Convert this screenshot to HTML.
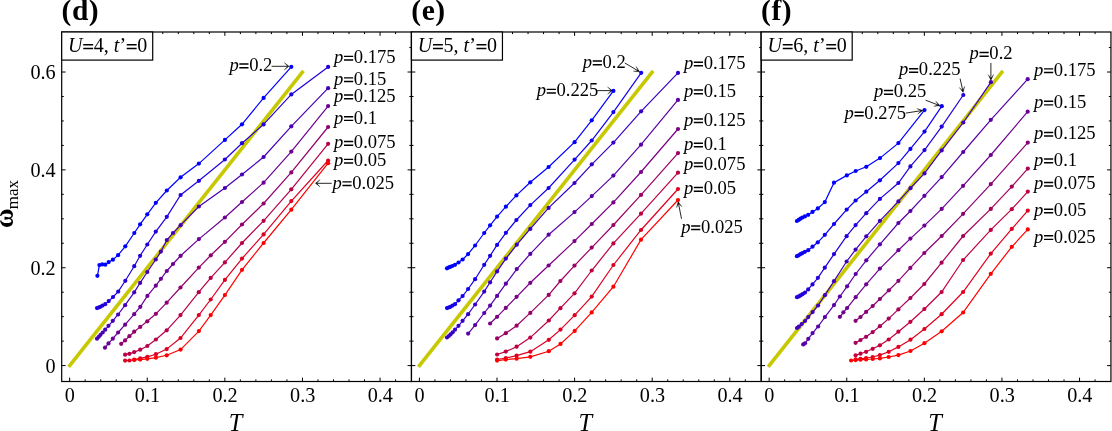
<!DOCTYPE html>
<html><head><meta charset="utf-8"><title>chart</title>
<style>html,body{margin:0;padding:0;background:#fff}svg{display:block;will-change:transform}</style>
</head><body>
<svg width="1112" height="431" viewBox="0 0 1112 431" font-family="'Liberation Serif', serif">
<rect width="1112" height="431" fill="#fff"/>
<line x1="68.66" y1="366.85" x2="303.44" y2="70.77" stroke="#c8c800" stroke-width="3.6"/>
<polyline fill="none" stroke="#0000ff" stroke-width="1.2" points="97.4,275.8 99.4,265.1 102.2,264.4 105.3,264.7 108.7,262.1 112.9,259.7 118.1,255.2 125.3,246.3 134.3,233.0 140.1,224.3 147.3,214.3 155.8,202.8 166.8,190.5 180.6,177.3 198.9,163.6 224.9,139.9 242.0,124.3 263.6,97.9 291.3,66.8"/>
<g fill="#0000ff"><circle cx="97.4" cy="275.8" r="2.1"/><circle cx="99.4" cy="265.1" r="2.1"/><circle cx="102.2" cy="264.4" r="2.1"/><circle cx="105.3" cy="264.7" r="2.1"/><circle cx="108.7" cy="262.1" r="2.1"/><circle cx="112.9" cy="259.7" r="2.1"/><circle cx="118.1" cy="255.2" r="2.1"/><circle cx="125.3" cy="246.3" r="2.1"/><circle cx="134.3" cy="233.0" r="2.1"/><circle cx="140.1" cy="224.3" r="2.1"/><circle cx="147.3" cy="214.3" r="2.1"/><circle cx="155.8" cy="202.8" r="2.1"/><circle cx="166.8" cy="190.5" r="2.1"/><circle cx="180.6" cy="177.3" r="2.1"/><circle cx="198.9" cy="163.6" r="2.1"/><circle cx="224.9" cy="139.9" r="2.1"/><circle cx="242.0" cy="124.3" r="2.1"/><circle cx="263.6" cy="97.9" r="2.1"/><circle cx="291.3" cy="66.8" r="2.1"/></g>
<polyline fill="none" stroke="#2100de" stroke-width="1.2" points="97.0,308.1 98.6,307.5 100.3,306.8 102.5,305.6 105.2,304.2 108.7,301.1 113.0,297.0 118.2,291.6 125.3,280.8 134.2,266.2 140.1,255.8 147.3,244.5 155.8,231.6 166.8,216.8 180.6,195.0 198.9,180.8 224.9,159.5 242.0,143.2 263.6,124.4 291.3,94.4 328.1,66.9"/>
<g fill="#2100de"><circle cx="97.0" cy="308.1" r="2.1"/><circle cx="98.6" cy="307.5" r="2.1"/><circle cx="100.3" cy="306.8" r="2.1"/><circle cx="102.5" cy="305.6" r="2.1"/><circle cx="105.2" cy="304.2" r="2.1"/><circle cx="108.7" cy="301.1" r="2.1"/><circle cx="113.0" cy="297.0" r="2.1"/><circle cx="118.2" cy="291.6" r="2.1"/><circle cx="125.3" cy="280.8" r="2.1"/><circle cx="134.2" cy="266.2" r="2.1"/><circle cx="140.1" cy="255.8" r="2.1"/><circle cx="147.3" cy="244.5" r="2.1"/><circle cx="155.8" cy="231.6" r="2.1"/><circle cx="166.8" cy="216.8" r="2.1"/><circle cx="180.6" cy="195.0" r="2.1"/><circle cx="198.9" cy="180.8" r="2.1"/><circle cx="224.9" cy="159.5" r="2.1"/><circle cx="242.0" cy="143.2" r="2.1"/><circle cx="263.6" cy="124.4" r="2.1"/><circle cx="291.3" cy="94.4" r="2.1"/><circle cx="328.1" cy="66.9" r="2.1"/></g>
<polyline fill="none" stroke="#4700b8" stroke-width="1.2" points="97.0,338.7 98.8,336.8 100.5,334.8 102.7,332.5 105.2,329.7 108.5,325.8 112.8,320.8 118.1,314.5 125.1,305.2 134.2,292.3 140.1,282.9 147.3,272.0 155.8,259.5 160.9,251.6 166.8,240.1 173.0,233.0 180.6,225.2 198.9,206.5 224.9,188.0 242.0,174.5 263.6,157.0 291.3,126.3 328.1,88.2"/>
<g fill="#4700b8"><circle cx="97.0" cy="338.7" r="2.1"/><circle cx="98.8" cy="336.8" r="2.1"/><circle cx="100.5" cy="334.8" r="2.1"/><circle cx="102.7" cy="332.5" r="2.1"/><circle cx="105.2" cy="329.7" r="2.1"/><circle cx="108.5" cy="325.8" r="2.1"/><circle cx="112.8" cy="320.8" r="2.1"/><circle cx="118.1" cy="314.5" r="2.1"/><circle cx="125.1" cy="305.2" r="2.1"/><circle cx="134.2" cy="292.3" r="2.1"/><circle cx="140.1" cy="282.9" r="2.1"/><circle cx="147.3" cy="272.0" r="2.1"/><circle cx="155.8" cy="259.5" r="2.1"/><circle cx="160.9" cy="251.6" r="2.1"/><circle cx="166.8" cy="240.1" r="2.1"/><circle cx="173.0" cy="233.0" r="2.1"/><circle cx="180.6" cy="225.2" r="2.1"/><circle cx="198.9" cy="206.5" r="2.1"/><circle cx="224.9" cy="188.0" r="2.1"/><circle cx="242.0" cy="174.5" r="2.1"/><circle cx="263.6" cy="157.0" r="2.1"/><circle cx="291.3" cy="126.3" r="2.1"/><circle cx="328.1" cy="88.2" r="2.1"/></g>
<polyline fill="none" stroke="#6c0093" stroke-width="1.2" points="105.0,347.7 108.5,343.4 112.8,338.7 118.1,332.5 125.1,324.7 134.2,314.2 140.3,306.8 147.4,295.9 155.8,285.7 160.9,278.8 166.8,271.0 173.0,264.0 180.6,255.8 198.9,239.1 224.9,217.5 242.0,202.0 263.6,182.7 291.3,151.6 328.1,106.1"/>
<g fill="#6c0093"><circle cx="105.0" cy="347.7" r="2.1"/><circle cx="108.5" cy="343.4" r="2.1"/><circle cx="112.8" cy="338.7" r="2.1"/><circle cx="118.1" cy="332.5" r="2.1"/><circle cx="125.1" cy="324.7" r="2.1"/><circle cx="134.2" cy="314.2" r="2.1"/><circle cx="140.3" cy="306.8" r="2.1"/><circle cx="147.4" cy="295.9" r="2.1"/><circle cx="155.8" cy="285.7" r="2.1"/><circle cx="160.9" cy="278.8" r="2.1"/><circle cx="166.8" cy="271.0" r="2.1"/><circle cx="173.0" cy="264.0" r="2.1"/><circle cx="180.6" cy="255.8" r="2.1"/><circle cx="198.9" cy="239.1" r="2.1"/><circle cx="224.9" cy="217.5" r="2.1"/><circle cx="242.0" cy="202.0" r="2.1"/><circle cx="263.6" cy="182.7" r="2.1"/><circle cx="291.3" cy="151.6" r="2.1"/><circle cx="328.1" cy="106.1" r="2.1"/></g>
<polyline fill="none" stroke="#91006e" stroke-width="1.2" points="121.2,343.8 125.1,340.4 129.4,336.2 134.2,331.7 140.2,326.9 147.3,321.3 155.9,313.8 166.7,302.7 180.5,287.5 198.8,267.6 210.8,255.3 224.9,241.8 242.0,224.5 263.6,203.5 291.3,172.4 328.1,127.0"/>
<g fill="#91006e"><circle cx="121.2" cy="343.8" r="2.1"/><circle cx="125.1" cy="340.4" r="2.1"/><circle cx="129.4" cy="336.2" r="2.1"/><circle cx="134.2" cy="331.7" r="2.1"/><circle cx="140.2" cy="326.9" r="2.1"/><circle cx="147.3" cy="321.3" r="2.1"/><circle cx="155.9" cy="313.8" r="2.1"/><circle cx="166.7" cy="302.7" r="2.1"/><circle cx="180.5" cy="287.5" r="2.1"/><circle cx="198.8" cy="267.6" r="2.1"/><circle cx="210.8" cy="255.3" r="2.1"/><circle cx="224.9" cy="241.8" r="2.1"/><circle cx="242.0" cy="224.5" r="2.1"/><circle cx="263.6" cy="203.5" r="2.1"/><circle cx="291.3" cy="172.4" r="2.1"/><circle cx="328.1" cy="127.0" r="2.1"/></g>
<polyline fill="none" stroke="#b60049" stroke-width="1.2" points="125.1,354.7 129.4,353.8 134.2,352.1 140.2,349.7 147.3,346.0 155.9,339.5 166.7,330.3 180.5,315.1 198.8,292.2 210.7,277.9 224.9,262.4 242.0,243.0 263.6,220.8 291.3,189.3 328.1,143.8"/>
<g fill="#b60049"><circle cx="125.1" cy="354.7" r="2.1"/><circle cx="129.4" cy="353.8" r="2.1"/><circle cx="134.2" cy="352.1" r="2.1"/><circle cx="140.2" cy="349.7" r="2.1"/><circle cx="147.3" cy="346.0" r="2.1"/><circle cx="155.9" cy="339.5" r="2.1"/><circle cx="166.7" cy="330.3" r="2.1"/><circle cx="180.5" cy="315.1" r="2.1"/><circle cx="198.8" cy="292.2" r="2.1"/><circle cx="210.7" cy="277.9" r="2.1"/><circle cx="224.9" cy="262.4" r="2.1"/><circle cx="242.0" cy="243.0" r="2.1"/><circle cx="263.6" cy="220.8" r="2.1"/><circle cx="291.3" cy="189.3" r="2.1"/><circle cx="328.1" cy="143.8" r="2.1"/></g>
<polyline fill="none" stroke="#db0024" stroke-width="1.2" points="125.1,360.6 129.4,360.5 134.2,359.6 140.2,358.3 147.3,356.8 155.9,354.2 166.7,349.1 180.5,338.0 198.8,315.1 210.7,299.5 224.9,279.9 242.0,258.6 263.6,234.4 291.3,201.1 328.1,160.5"/>
<g fill="#db0024"><circle cx="125.1" cy="360.6" r="2.1"/><circle cx="129.4" cy="360.5" r="2.1"/><circle cx="134.2" cy="359.6" r="2.1"/><circle cx="140.2" cy="358.3" r="2.1"/><circle cx="147.3" cy="356.8" r="2.1"/><circle cx="155.9" cy="354.2" r="2.1"/><circle cx="166.7" cy="349.1" r="2.1"/><circle cx="180.5" cy="338.0" r="2.1"/><circle cx="198.8" cy="315.1" r="2.1"/><circle cx="210.7" cy="299.5" r="2.1"/><circle cx="224.9" cy="279.9" r="2.1"/><circle cx="242.0" cy="258.6" r="2.1"/><circle cx="263.6" cy="234.4" r="2.1"/><circle cx="291.3" cy="201.1" r="2.1"/><circle cx="328.1" cy="160.5" r="2.1"/></g>
<polyline fill="none" stroke="#ff0000" stroke-width="1.2" points="134.2,360.0 140.2,359.6 147.3,358.8 155.9,357.7 166.7,355.3 180.6,349.6 198.9,331.1 210.7,315.1 224.9,295.1 242.0,269.8 263.6,243.0 291.3,209.7 328.1,163.2"/>
<g fill="#ff0000"><circle cx="134.2" cy="360.0" r="2.1"/><circle cx="140.2" cy="359.6" r="2.1"/><circle cx="147.3" cy="358.8" r="2.1"/><circle cx="155.9" cy="357.7" r="2.1"/><circle cx="166.7" cy="355.3" r="2.1"/><circle cx="180.6" cy="349.6" r="2.1"/><circle cx="198.9" cy="331.1" r="2.1"/><circle cx="210.7" cy="315.1" r="2.1"/><circle cx="224.9" cy="295.1" r="2.1"/><circle cx="242.0" cy="269.8" r="2.1"/><circle cx="263.6" cy="243.0" r="2.1"/><circle cx="291.3" cy="209.7" r="2.1"/><circle cx="328.1" cy="163.2" r="2.1"/></g>
<path d="M69.65 381.50v-3.90M69.65 32.00v3.90M85.17 381.50v-2.10M85.17 32.00v2.10M100.69 381.50v-2.10M100.69 32.00v2.10M116.21 381.50v-2.10M116.21 32.00v2.10M131.73 381.50v-2.10M131.73 32.00v2.10M147.25 381.50v-3.90M147.25 32.00v3.90M162.77 381.50v-2.10M162.77 32.00v2.10M178.29 381.50v-2.10M178.29 32.00v2.10M193.81 381.50v-2.10M193.81 32.00v2.10M209.33 381.50v-2.10M209.33 32.00v2.10M224.85 381.50v-3.90M224.85 32.00v3.90M240.37 381.50v-2.10M240.37 32.00v2.10M255.89 381.50v-2.10M255.89 32.00v2.10M271.41 381.50v-2.10M271.41 32.00v2.10M286.93 381.50v-2.10M286.93 32.00v2.10M302.45 381.50v-3.90M302.45 32.00v3.90M317.97 381.50v-2.10M317.97 32.00v2.10M333.49 381.50v-2.10M333.49 32.00v2.10M349.01 381.50v-2.10M349.01 32.00v2.10M364.53 381.50v-2.10M364.53 32.00v2.10M380.05 381.50v-3.90M380.05 32.00v3.90M395.57 381.50v-2.10M395.57 32.00v2.10M61.70 365.60h3.90M411.45 365.60h-3.90M61.70 341.13h2.10M411.45 341.13h-2.10M61.70 316.67h2.10M411.45 316.67h-2.10M61.70 292.21h2.10M411.45 292.21h-2.10M61.70 267.74h3.90M411.45 267.74h-3.90M61.70 243.28h2.10M411.45 243.28h-2.10M61.70 218.81h2.10M411.45 218.81h-2.10M61.70 194.34h2.10M411.45 194.34h-2.10M61.70 169.88h3.90M411.45 169.88h-3.90M61.70 145.42h2.10M411.45 145.42h-2.10M61.70 120.95h2.10M411.45 120.95h-2.10M61.70 96.49h2.10M411.45 96.49h-2.10M61.70 72.02h3.90M411.45 72.02h-3.90M61.70 47.56h2.10M411.45 47.56h-2.10" stroke="#000" stroke-width="1" fill="none"/>
<rect x="61.70" y="32.00" width="349.75" height="349.50" fill="none" stroke="#000" stroke-width="1.2"/>
<rect x="61.70" y="32.00" width="91.00" height="28.10" fill="#fff" stroke="#000" stroke-width="1.2"/>
<text y="51.9" font-size="20.0"><tspan x="68.10" font-style="italic">U</tspan><tspan x="93.82">4, </tspan><tspan font-style="italic">t</tspan>’<tspan x="137.32">0</tspan></text>
<path d="M83.24 44.66H93.14M83.24 48.50H93.14" stroke="#000" stroke-width="1.56" fill="none"/>
<path d="M126.74 44.66H136.64M126.74 48.50H136.64" stroke="#000" stroke-width="1.56" fill="none"/>
<text x="61.60" y="20.2" font-size="29.5" font-weight="bold" letter-spacing="0.5">(d)</text>
<text x="69.85" y="402.1" font-size="20.2" text-anchor="middle">0</text>
<text x="147.45" y="402.1" font-size="20.2" text-anchor="middle">0.1</text>
<text x="225.05" y="402.1" font-size="20.2" text-anchor="middle">0.2</text>
<text x="302.65" y="402.1" font-size="20.2" text-anchor="middle">0.3</text>
<text x="380.25" y="402.1" font-size="20.2" text-anchor="middle">0.4</text>
<text x="235.57" y="430.9" font-size="24.5" font-style="italic" text-anchor="middle">T</text>
<text y="70.80" font-size="18.6"><tspan x="229.40" font-style="italic">p</tspan><tspan x="249.14">0.2</tspan></text>
<path d="M239.32 64.08H248.51M239.32 67.65H248.51" stroke="#000" stroke-width="1.45" fill="none"/>
<text y="63.10" font-size="18.6"><tspan x="334.10" font-style="italic">p</tspan><tspan x="353.84">0.175</tspan></text>
<path d="M344.02 56.38H353.21M344.02 59.95H353.21" stroke="#000" stroke-width="1.45" fill="none"/>
<text y="84.60" font-size="18.6"><tspan x="334.10" font-style="italic">p</tspan><tspan x="353.84">0.15</tspan></text>
<path d="M344.02 77.88H353.21M344.02 81.45H353.21" stroke="#000" stroke-width="1.45" fill="none"/>
<text y="101.80" font-size="18.6"><tspan x="334.10" font-style="italic">p</tspan><tspan x="353.84">0.125</tspan></text>
<path d="M344.02 95.08H353.21M344.02 98.65H353.21" stroke="#000" stroke-width="1.45" fill="none"/>
<text y="123.50" font-size="18.6"><tspan x="334.10" font-style="italic">p</tspan><tspan x="353.84">0.1</tspan></text>
<path d="M344.02 116.78H353.21M344.02 120.35H353.21" stroke="#000" stroke-width="1.45" fill="none"/>
<text y="148.30" font-size="18.6"><tspan x="334.10" font-style="italic">p</tspan><tspan x="353.84">0.075</tspan></text>
<path d="M344.02 141.58H353.21M344.02 145.15H353.21" stroke="#000" stroke-width="1.45" fill="none"/>
<text y="166.10" font-size="18.6"><tspan x="334.10" font-style="italic">p</tspan><tspan x="353.84">0.05</tspan></text>
<path d="M344.02 159.38H353.21M344.02 162.95H353.21" stroke="#000" stroke-width="1.45" fill="none"/>
<text y="188.60" font-size="18.6"><tspan x="332.50" font-style="italic">p</tspan><tspan x="352.24">0.025</tspan></text>
<path d="M342.42 181.88H351.61M342.42 185.45H351.61" stroke="#000" stroke-width="1.45" fill="none"/>
<path d="M271.60 66.30L287.50 66.30" stroke="#000" stroke-width="0.85" fill="none"/>
<path d="M289.00 66.30L284.26 69.98L287.68 66.30L284.26 62.62Z" fill="#000" stroke="#000" stroke-width="0.3" stroke-linejoin="miter"/>
<path d="M331.70 183.30L316.90 183.30" stroke="#000" stroke-width="0.85" fill="none"/>
<path d="M315.40 183.30L320.14 179.62L316.72 183.30L320.14 186.98Z" fill="#000" stroke="#000" stroke-width="0.3" stroke-linejoin="miter"/>
<line x1="418.41" y1="366.85" x2="653.19" y2="70.77" stroke="#c8c800" stroke-width="3.6"/>
<polyline fill="none" stroke="#0000ff" stroke-width="1.2" points="447.0,268.3 448.6,267.5 450.1,266.9 452.3,266.0 455.0,264.8 458.5,262.5 462.6,259.5 468.1,254.1 475.1,245.5 484.2,233.0 490.1,225.3 497.1,216.6 505.9,206.7 516.4,195.4 530.3,182.3 548.6,167.0 574.6,142.2 591.7,120.3 613.4,90.9"/>
<g fill="#0000ff"><circle cx="447.0" cy="268.3" r="2.1"/><circle cx="448.6" cy="267.5" r="2.1"/><circle cx="450.1" cy="266.9" r="2.1"/><circle cx="452.3" cy="266.0" r="2.1"/><circle cx="455.0" cy="264.8" r="2.1"/><circle cx="458.5" cy="262.5" r="2.1"/><circle cx="462.6" cy="259.5" r="2.1"/><circle cx="468.1" cy="254.1" r="2.1"/><circle cx="475.1" cy="245.5" r="2.1"/><circle cx="484.2" cy="233.0" r="2.1"/><circle cx="490.1" cy="225.3" r="2.1"/><circle cx="497.1" cy="216.6" r="2.1"/><circle cx="505.9" cy="206.7" r="2.1"/><circle cx="516.4" cy="195.4" r="2.1"/><circle cx="530.3" cy="182.3" r="2.1"/><circle cx="548.6" cy="167.0" r="2.1"/><circle cx="574.6" cy="142.2" r="2.1"/><circle cx="591.7" cy="120.3" r="2.1"/><circle cx="613.4" cy="90.9" r="2.1"/></g>
<polyline fill="none" stroke="#1400eb" stroke-width="1.2" points="447.0,308.1 448.6,307.5 450.3,306.8 452.5,305.6 455.0,304.2 458.5,300.3 462.6,296.0 468.1,289.0 475.1,279.2 484.2,264.8 490.1,255.8 497.1,244.9 505.9,232.8 516.4,220.0 530.3,205.1 548.6,188.0 574.6,159.6 591.7,140.5 613.4,112.1 641.2,72.8"/>
<g fill="#1400eb"><circle cx="447.0" cy="308.1" r="2.1"/><circle cx="448.6" cy="307.5" r="2.1"/><circle cx="450.3" cy="306.8" r="2.1"/><circle cx="452.5" cy="305.6" r="2.1"/><circle cx="455.0" cy="304.2" r="2.1"/><circle cx="458.5" cy="300.3" r="2.1"/><circle cx="462.6" cy="296.0" r="2.1"/><circle cx="468.1" cy="289.0" r="2.1"/><circle cx="475.1" cy="279.2" r="2.1"/><circle cx="484.2" cy="264.8" r="2.1"/><circle cx="490.1" cy="255.8" r="2.1"/><circle cx="497.1" cy="244.9" r="2.1"/><circle cx="505.9" cy="232.8" r="2.1"/><circle cx="516.4" cy="220.0" r="2.1"/><circle cx="530.3" cy="205.1" r="2.1"/><circle cx="548.6" cy="188.0" r="2.1"/><circle cx="574.6" cy="159.6" r="2.1"/><circle cx="591.7" cy="140.5" r="2.1"/><circle cx="613.4" cy="112.1" r="2.1"/><circle cx="641.2" cy="72.8" r="2.1"/></g>
<polyline fill="none" stroke="#3800c7" stroke-width="1.2" points="447.0,337.5 448.8,336.0 450.5,334.4 452.7,332.3 455.0,329.7 458.5,325.8 462.6,320.8 468.1,314.2 475.1,304.5 484.2,291.6 490.1,282.3 497.1,271.4 505.9,258.6 516.8,244.7 530.3,228.9 548.6,207.9 574.5,183.0 591.8,164.3 613.4,142.6 641.1,111.3 678.0,72.9"/>
<g fill="#3800c7"><circle cx="447.0" cy="337.5" r="2.1"/><circle cx="448.8" cy="336.0" r="2.1"/><circle cx="450.5" cy="334.4" r="2.1"/><circle cx="452.7" cy="332.3" r="2.1"/><circle cx="455.0" cy="329.7" r="2.1"/><circle cx="458.5" cy="325.8" r="2.1"/><circle cx="462.6" cy="320.8" r="2.1"/><circle cx="468.1" cy="314.2" r="2.1"/><circle cx="475.1" cy="304.5" r="2.1"/><circle cx="484.2" cy="291.6" r="2.1"/><circle cx="490.1" cy="282.3" r="2.1"/><circle cx="497.1" cy="271.4" r="2.1"/><circle cx="505.9" cy="258.6" r="2.1"/><circle cx="516.8" cy="244.7" r="2.1"/><circle cx="530.3" cy="228.9" r="2.1"/><circle cx="548.6" cy="207.9" r="2.1"/><circle cx="574.5" cy="183.0" r="2.1"/><circle cx="591.8" cy="164.3" r="2.1"/><circle cx="613.4" cy="142.6" r="2.1"/><circle cx="641.1" cy="111.3" r="2.1"/><circle cx="678.0" cy="72.9" r="2.1"/></g>
<polyline fill="none" stroke="#5900a6" stroke-width="1.2" points="468.1,333.6 475.1,325.1 484.2,313.0 490.1,305.6 497.1,295.9 505.9,283.7 516.8,269.1 530.3,253.8 548.6,234.7 574.5,212.1 591.8,196.1 613.4,175.6 641.0,144.7 678.0,99.9"/>
<g fill="#5900a6"><circle cx="468.1" cy="333.6" r="2.1"/><circle cx="475.1" cy="325.1" r="2.1"/><circle cx="484.2" cy="313.0" r="2.1"/><circle cx="490.1" cy="305.6" r="2.1"/><circle cx="497.1" cy="295.9" r="2.1"/><circle cx="505.9" cy="283.7" r="2.1"/><circle cx="516.8" cy="269.1" r="2.1"/><circle cx="530.3" cy="253.8" r="2.1"/><circle cx="548.6" cy="234.7" r="2.1"/><circle cx="574.5" cy="212.1" r="2.1"/><circle cx="591.8" cy="196.1" r="2.1"/><circle cx="613.4" cy="175.6" r="2.1"/><circle cx="641.0" cy="144.7" r="2.1"/><circle cx="678.0" cy="99.9" r="2.1"/></g>
<polyline fill="none" stroke="#7a0085" stroke-width="1.2" points="490.1,323.5 497.1,316.8 505.8,307.9 516.6,296.8 530.3,282.8 548.6,265.5 574.5,241.1 591.8,224.0 613.4,202.4 641.0,172.0 678.0,129.0"/>
<g fill="#7a0085"><circle cx="490.1" cy="323.5" r="2.1"/><circle cx="497.1" cy="316.8" r="2.1"/><circle cx="505.8" cy="307.9" r="2.1"/><circle cx="516.6" cy="296.8" r="2.1"/><circle cx="530.3" cy="282.8" r="2.1"/><circle cx="548.6" cy="265.5" r="2.1"/><circle cx="574.5" cy="241.1" r="2.1"/><circle cx="591.8" cy="224.0" r="2.1"/><circle cx="613.4" cy="202.4" r="2.1"/><circle cx="641.0" cy="172.0" r="2.1"/><circle cx="678.0" cy="129.0" r="2.1"/></g>
<polyline fill="none" stroke="#9c0063" stroke-width="1.2" points="497.1,338.4 505.8,333.2 516.6,325.7 530.3,312.9 548.7,294.9 560.4,281.0 574.5,265.6 591.7,247.6 613.4,225.0 641.0,194.9 678.0,153.1"/>
<g fill="#9c0063"><circle cx="497.1" cy="338.4" r="2.1"/><circle cx="505.8" cy="333.2" r="2.1"/><circle cx="516.6" cy="325.7" r="2.1"/><circle cx="530.3" cy="312.9" r="2.1"/><circle cx="548.7" cy="294.9" r="2.1"/><circle cx="560.4" cy="281.0" r="2.1"/><circle cx="574.5" cy="265.6" r="2.1"/><circle cx="591.7" cy="247.6" r="2.1"/><circle cx="613.4" cy="225.0" r="2.1"/><circle cx="641.0" cy="194.9" r="2.1"/><circle cx="678.0" cy="153.1" r="2.1"/></g>
<polyline fill="none" stroke="#bd0042" stroke-width="1.2" points="497.1,354.5 505.8,351.6 516.6,346.7 530.3,337.6 548.8,320.5 560.4,308.2 574.5,293.3 591.7,270.5 613.4,243.4 641.0,213.7 678.0,172.7"/>
<g fill="#bd0042"><circle cx="497.1" cy="354.5" r="2.1"/><circle cx="505.8" cy="351.6" r="2.1"/><circle cx="516.6" cy="346.7" r="2.1"/><circle cx="530.3" cy="337.6" r="2.1"/><circle cx="548.8" cy="320.5" r="2.1"/><circle cx="560.4" cy="308.2" r="2.1"/><circle cx="574.5" cy="293.3" r="2.1"/><circle cx="591.7" cy="270.5" r="2.1"/><circle cx="613.4" cy="243.4" r="2.1"/><circle cx="641.0" cy="213.7" r="2.1"/><circle cx="678.0" cy="172.7" r="2.1"/></g>
<polyline fill="none" stroke="#de0021" stroke-width="1.2" points="497.1,359.5 505.8,358.0 516.6,355.7 530.3,351.7 548.8,339.8 560.5,329.6 574.7,315.2 591.7,296.6 613.4,265.0 641.0,230.0 678.0,189.0"/>
<g fill="#de0021"><circle cx="497.1" cy="359.5" r="2.1"/><circle cx="505.8" cy="358.0" r="2.1"/><circle cx="516.6" cy="355.7" r="2.1"/><circle cx="530.3" cy="351.7" r="2.1"/><circle cx="548.8" cy="339.8" r="2.1"/><circle cx="560.5" cy="329.6" r="2.1"/><circle cx="574.7" cy="315.2" r="2.1"/><circle cx="591.7" cy="296.6" r="2.1"/><circle cx="613.4" cy="265.0" r="2.1"/><circle cx="641.0" cy="230.0" r="2.1"/><circle cx="678.0" cy="189.0" r="2.1"/></g>
<polyline fill="none" stroke="#ff0000" stroke-width="1.2" points="497.1,360.6 505.8,359.6 516.6,358.7 530.3,356.8 548.8,351.2 560.5,343.9 574.7,330.9 591.7,312.4 613.4,286.7 641.0,239.7 678.0,200.0"/>
<g fill="#ff0000"><circle cx="497.1" cy="360.6" r="2.1"/><circle cx="505.8" cy="359.6" r="2.1"/><circle cx="516.6" cy="358.7" r="2.1"/><circle cx="530.3" cy="356.8" r="2.1"/><circle cx="548.8" cy="351.2" r="2.1"/><circle cx="560.5" cy="343.9" r="2.1"/><circle cx="574.7" cy="330.9" r="2.1"/><circle cx="591.7" cy="312.4" r="2.1"/><circle cx="613.4" cy="286.7" r="2.1"/><circle cx="641.0" cy="239.7" r="2.1"/><circle cx="678.0" cy="200.0" r="2.1"/></g>
<path d="M419.40 381.50v-3.90M419.40 32.00v3.90M434.92 381.50v-2.10M434.92 32.00v2.10M450.44 381.50v-2.10M450.44 32.00v2.10M465.96 381.50v-2.10M465.96 32.00v2.10M481.48 381.50v-2.10M481.48 32.00v2.10M497.00 381.50v-3.90M497.00 32.00v3.90M512.52 381.50v-2.10M512.52 32.00v2.10M528.04 381.50v-2.10M528.04 32.00v2.10M543.56 381.50v-2.10M543.56 32.00v2.10M559.08 381.50v-2.10M559.08 32.00v2.10M574.60 381.50v-3.90M574.60 32.00v3.90M590.12 381.50v-2.10M590.12 32.00v2.10M605.64 381.50v-2.10M605.64 32.00v2.10M621.16 381.50v-2.10M621.16 32.00v2.10M636.68 381.50v-2.10M636.68 32.00v2.10M652.20 381.50v-3.90M652.20 32.00v3.90M667.72 381.50v-2.10M667.72 32.00v2.10M683.24 381.50v-2.10M683.24 32.00v2.10M698.76 381.50v-2.10M698.76 32.00v2.10M714.28 381.50v-2.10M714.28 32.00v2.10M729.80 381.50v-3.90M729.80 32.00v3.90M745.32 381.50v-2.10M745.32 32.00v2.10M411.45 365.60h3.90M761.20 365.60h-3.90M411.45 341.13h2.10M761.20 341.13h-2.10M411.45 316.67h2.10M761.20 316.67h-2.10M411.45 292.21h2.10M761.20 292.21h-2.10M411.45 267.74h3.90M761.20 267.74h-3.90M411.45 243.28h2.10M761.20 243.28h-2.10M411.45 218.81h2.10M761.20 218.81h-2.10M411.45 194.34h2.10M761.20 194.34h-2.10M411.45 169.88h3.90M761.20 169.88h-3.90M411.45 145.42h2.10M761.20 145.42h-2.10M411.45 120.95h2.10M761.20 120.95h-2.10M411.45 96.49h2.10M761.20 96.49h-2.10M411.45 72.02h3.90M761.20 72.02h-3.90M411.45 47.56h2.10M761.20 47.56h-2.10" stroke="#000" stroke-width="1" fill="none"/>
<rect x="411.45" y="32.00" width="349.75" height="349.50" fill="none" stroke="#000" stroke-width="1.2"/>
<rect x="411.45" y="32.00" width="91.00" height="28.10" fill="#fff" stroke="#000" stroke-width="1.2"/>
<text y="51.9" font-size="20.0"><tspan x="417.85" font-style="italic">U</tspan><tspan x="443.57">5, </tspan><tspan font-style="italic">t</tspan>’<tspan x="487.07">0</tspan></text>
<path d="M432.99 44.66H442.89M432.99 48.50H442.89" stroke="#000" stroke-width="1.56" fill="none"/>
<path d="M476.49 44.66H486.39M476.49 48.50H486.39" stroke="#000" stroke-width="1.56" fill="none"/>
<text x="411.35" y="20.2" font-size="29.5" font-weight="bold" letter-spacing="0.5">(e)</text>
<text x="419.60" y="402.1" font-size="20.2" text-anchor="middle">0</text>
<text x="497.20" y="402.1" font-size="20.2" text-anchor="middle">0.1</text>
<text x="574.80" y="402.1" font-size="20.2" text-anchor="middle">0.2</text>
<text x="652.40" y="402.1" font-size="20.2" text-anchor="middle">0.3</text>
<text x="730.00" y="402.1" font-size="20.2" text-anchor="middle">0.4</text>
<text x="585.33" y="430.9" font-size="24.5" font-style="italic" text-anchor="middle">T</text>
<text y="67.80" font-size="18.6"><tspan x="582.80" font-style="italic">p</tspan><tspan x="602.54">0.2</tspan></text>
<path d="M592.72 61.08H601.91M592.72 64.65H601.91" stroke="#000" stroke-width="1.45" fill="none"/>
<text y="96.10" font-size="18.6"><tspan x="536.80" font-style="italic">p</tspan><tspan x="556.54">0.225</tspan></text>
<path d="M546.72 89.38H555.91M546.72 92.95H555.91" stroke="#000" stroke-width="1.45" fill="none"/>
<text y="68.90" font-size="18.6"><tspan x="683.90" font-style="italic">p</tspan><tspan x="703.64">0.175</tspan></text>
<path d="M693.82 62.18H703.01M693.82 65.75H703.01" stroke="#000" stroke-width="1.45" fill="none"/>
<text y="96.80" font-size="18.6"><tspan x="683.90" font-style="italic">p</tspan><tspan x="703.64">0.15</tspan></text>
<path d="M693.82 90.08H703.01M693.82 93.65H703.01" stroke="#000" stroke-width="1.45" fill="none"/>
<text y="125.70" font-size="18.6"><tspan x="683.90" font-style="italic">p</tspan><tspan x="703.64">0.125</tspan></text>
<path d="M693.82 118.98H703.01M693.82 122.55H703.01" stroke="#000" stroke-width="1.45" fill="none"/>
<text y="149.90" font-size="18.6"><tspan x="683.90" font-style="italic">p</tspan><tspan x="703.64">0.1</tspan></text>
<path d="M693.82 143.18H703.01M693.82 146.75H703.01" stroke="#000" stroke-width="1.45" fill="none"/>
<text y="169.70" font-size="18.6"><tspan x="683.90" font-style="italic">p</tspan><tspan x="703.64">0.075</tspan></text>
<path d="M693.82 162.98H703.01M693.82 166.55H703.01" stroke="#000" stroke-width="1.45" fill="none"/>
<text y="194.30" font-size="18.6"><tspan x="683.90" font-style="italic">p</tspan><tspan x="703.64">0.05</tspan></text>
<path d="M693.82 187.58H703.01M693.82 191.15H703.01" stroke="#000" stroke-width="1.45" fill="none"/>
<text y="232.70" font-size="18.6"><tspan x="681.20" font-style="italic">p</tspan><tspan x="700.94">0.025</tspan></text>
<path d="M691.12 225.98H700.31M691.12 229.55H700.31" stroke="#000" stroke-width="1.45" fill="none"/>
<path d="M624.80 63.00L638.41 71.04" stroke="#000" stroke-width="0.85" fill="none"/>
<path d="M639.70 71.80L633.33 71.20L638.05 70.82L636.10 66.51Z" fill="#000" stroke="#000" stroke-width="0.3" stroke-linejoin="miter"/>
<path d="M597.20 90.60L610.80 90.60" stroke="#000" stroke-width="0.85" fill="none"/>
<path d="M612.30 90.60L607.56 94.28L610.98 90.60L607.56 86.92Z" fill="#000" stroke="#000" stroke-width="0.3" stroke-linejoin="miter"/>
<path d="M681.50 218.80L678.39 202.97" stroke="#000" stroke-width="0.85" fill="none"/>
<path d="M678.10 201.50L681.89 206.66L678.47 203.38L676.54 207.71Z" fill="#000" stroke="#000" stroke-width="0.3" stroke-linejoin="miter"/>
<line x1="768.16" y1="366.85" x2="1002.94" y2="70.77" stroke="#c8c800" stroke-width="3.6"/>
<polyline fill="none" stroke="#0000ff" stroke-width="1.2" points="796.9,221.0 798.7,219.9 800.5,218.7 802.4,217.5 804.9,216.4 808.2,214.8 812.5,211.9 817.8,208.4 824.8,202.1 834.0,182.7 846.8,175.4 855.7,171.0 866.3,166.8 880.0,158.1 898.4,143.1 924.5,110.1"/>
<g fill="#0000ff"><circle cx="796.9" cy="221.0" r="2.1"/><circle cx="798.7" cy="219.9" r="2.1"/><circle cx="800.5" cy="218.7" r="2.1"/><circle cx="802.4" cy="217.5" r="2.1"/><circle cx="804.9" cy="216.4" r="2.1"/><circle cx="808.2" cy="214.8" r="2.1"/><circle cx="812.5" cy="211.9" r="2.1"/><circle cx="817.8" cy="208.4" r="2.1"/><circle cx="824.8" cy="202.1" r="2.1"/><circle cx="834.0" cy="182.7" r="2.1"/><circle cx="846.8" cy="175.4" r="2.1"/><circle cx="855.7" cy="171.0" r="2.1"/><circle cx="866.3" cy="166.8" r="2.1"/><circle cx="880.0" cy="158.1" r="2.1"/><circle cx="898.4" cy="143.1" r="2.1"/><circle cx="924.5" cy="110.1" r="2.1"/></g>
<polyline fill="none" stroke="#0d00f2" stroke-width="1.2" points="796.9,256.2 798.7,255.3 800.5,254.1 802.4,253.1 804.9,251.8 808.2,250.2 812.5,246.7 817.8,242.3 824.8,234.8 834.0,224.0 846.7,209.6 855.6,200.5 866.3,191.7 879.9,180.3 898.4,163.1 910.4,148.9 924.5,131.6 941.8,106.2"/>
<g fill="#0d00f2"><circle cx="796.9" cy="256.2" r="2.1"/><circle cx="798.7" cy="255.3" r="2.1"/><circle cx="800.5" cy="254.1" r="2.1"/><circle cx="802.4" cy="253.1" r="2.1"/><circle cx="804.9" cy="251.8" r="2.1"/><circle cx="808.2" cy="250.2" r="2.1"/><circle cx="812.5" cy="246.7" r="2.1"/><circle cx="817.8" cy="242.3" r="2.1"/><circle cx="824.8" cy="234.8" r="2.1"/><circle cx="834.0" cy="224.0" r="2.1"/><circle cx="846.7" cy="209.6" r="2.1"/><circle cx="855.6" cy="200.5" r="2.1"/><circle cx="866.3" cy="191.7" r="2.1"/><circle cx="879.9" cy="180.3" r="2.1"/><circle cx="898.4" cy="163.1" r="2.1"/><circle cx="910.4" cy="148.9" r="2.1"/><circle cx="924.5" cy="131.6" r="2.1"/><circle cx="941.8" cy="106.2" r="2.1"/></g>
<polyline fill="none" stroke="#2400db" stroke-width="1.2" points="797.0,297.2 798.8,296.4 800.5,295.4 802.5,294.2 805.0,292.6 808.2,289.4 812.5,284.4 817.9,277.8 824.8,267.7 834.0,254.1 846.6,236.2 855.6,225.1 866.3,213.2 879.9,198.9 898.4,183.0 910.4,166.4 924.5,150.1 941.7,126.6 963.3,95.0"/>
<g fill="#2400db"><circle cx="797.0" cy="297.2" r="2.1"/><circle cx="798.8" cy="296.4" r="2.1"/><circle cx="800.5" cy="295.4" r="2.1"/><circle cx="802.5" cy="294.2" r="2.1"/><circle cx="805.0" cy="292.6" r="2.1"/><circle cx="808.2" cy="289.4" r="2.1"/><circle cx="812.5" cy="284.4" r="2.1"/><circle cx="817.9" cy="277.8" r="2.1"/><circle cx="824.8" cy="267.7" r="2.1"/><circle cx="834.0" cy="254.1" r="2.1"/><circle cx="846.6" cy="236.2" r="2.1"/><circle cx="855.6" cy="225.1" r="2.1"/><circle cx="866.3" cy="213.2" r="2.1"/><circle cx="879.9" cy="198.9" r="2.1"/><circle cx="898.4" cy="183.0" r="2.1"/><circle cx="910.4" cy="166.4" r="2.1"/><circle cx="924.5" cy="150.1" r="2.1"/><circle cx="941.7" cy="126.6" r="2.1"/><circle cx="963.3" cy="95.0" r="2.1"/></g>
<polyline fill="none" stroke="#4200bd" stroke-width="1.2" points="797.0,328.0 798.8,326.7 801.7,324.0 805.0,321.0 808.3,317.1 812.6,312.1 818.1,305.5 824.9,295.2 834.0,281.2 846.6,261.5 855.6,249.6 866.3,236.3 879.9,220.8 898.4,201.4 910.5,188.2 924.5,173.4 941.7,150.4 963.3,122.5 990.9,82.2"/>
<g fill="#4200bd"><circle cx="797.0" cy="328.0" r="2.1"/><circle cx="798.8" cy="326.7" r="2.1"/><circle cx="801.7" cy="324.0" r="2.1"/><circle cx="805.0" cy="321.0" r="2.1"/><circle cx="808.3" cy="317.1" r="2.1"/><circle cx="812.6" cy="312.1" r="2.1"/><circle cx="818.1" cy="305.5" r="2.1"/><circle cx="824.9" cy="295.2" r="2.1"/><circle cx="834.0" cy="281.2" r="2.1"/><circle cx="846.6" cy="261.5" r="2.1"/><circle cx="855.6" cy="249.6" r="2.1"/><circle cx="866.3" cy="236.3" r="2.1"/><circle cx="879.9" cy="220.8" r="2.1"/><circle cx="898.4" cy="201.4" r="2.1"/><circle cx="910.5" cy="188.2" r="2.1"/><circle cx="924.5" cy="173.4" r="2.1"/><circle cx="941.7" cy="150.4" r="2.1"/><circle cx="963.3" cy="122.5" r="2.1"/><circle cx="990.9" cy="82.2" r="2.1"/></g>
<polyline fill="none" stroke="#5900a6" stroke-width="1.2" points="803.2,344.4 805.0,343.3 808.3,338.8 812.6,333.1 818.1,326.5 824.9,317.1 834.0,305.1 839.9,296.5 847.1,286.3 855.7,274.0 866.3,260.3 879.9,244.3 898.4,223.0 910.4,211.0 924.4,195.8 941.7,177.1 963.2,152.0 990.8,119.8 1027.7,79.2"/>
<g fill="#5900a6"><circle cx="803.2" cy="344.4" r="2.1"/><circle cx="805.0" cy="343.3" r="2.1"/><circle cx="808.3" cy="338.8" r="2.1"/><circle cx="812.6" cy="333.1" r="2.1"/><circle cx="818.1" cy="326.5" r="2.1"/><circle cx="824.9" cy="317.1" r="2.1"/><circle cx="834.0" cy="305.1" r="2.1"/><circle cx="839.9" cy="296.5" r="2.1"/><circle cx="847.1" cy="286.3" r="2.1"/><circle cx="855.7" cy="274.0" r="2.1"/><circle cx="866.3" cy="260.3" r="2.1"/><circle cx="879.9" cy="244.3" r="2.1"/><circle cx="898.4" cy="223.0" r="2.1"/><circle cx="910.4" cy="211.0" r="2.1"/><circle cx="924.4" cy="195.8" r="2.1"/><circle cx="941.7" cy="177.1" r="2.1"/><circle cx="963.2" cy="152.0" r="2.1"/><circle cx="990.8" cy="119.8" r="2.1"/><circle cx="1027.7" cy="79.2" r="2.1"/></g>
<polyline fill="none" stroke="#6e0091" stroke-width="1.2" points="839.9,316.8 843.4,312.3 847.1,308.0 855.7,297.2 866.2,284.3 879.9,268.6 898.4,250.2 910.4,238.6 924.4,225.6 941.7,208.9 963.1,185.8 990.8,155.0 1027.7,111.7"/>
<g fill="#6e0091"><circle cx="839.9" cy="316.8" r="2.1"/><circle cx="843.4" cy="312.3" r="2.1"/><circle cx="847.1" cy="308.0" r="2.1"/><circle cx="855.7" cy="297.2" r="2.1"/><circle cx="866.2" cy="284.3" r="2.1"/><circle cx="879.9" cy="268.6" r="2.1"/><circle cx="898.4" cy="250.2" r="2.1"/><circle cx="910.4" cy="238.6" r="2.1"/><circle cx="924.4" cy="225.6" r="2.1"/><circle cx="941.7" cy="208.9" r="2.1"/><circle cx="963.1" cy="185.8" r="2.1"/><circle cx="990.8" cy="155.0" r="2.1"/><circle cx="1027.7" cy="111.7" r="2.1"/></g>
<polyline fill="none" stroke="#8a0075" stroke-width="1.2" points="855.6,320.8 860.5,317.0 866.1,311.9 872.7,306.0 879.9,299.0 888.9,290.3 898.4,280.8 910.3,267.9 924.3,253.0 941.7,236.0 963.1,213.8 990.8,184.1 1027.8,142.6"/>
<g fill="#8a0075"><circle cx="855.6" cy="320.8" r="2.1"/><circle cx="860.5" cy="317.0" r="2.1"/><circle cx="866.1" cy="311.9" r="2.1"/><circle cx="872.7" cy="306.0" r="2.1"/><circle cx="879.9" cy="299.0" r="2.1"/><circle cx="888.9" cy="290.3" r="2.1"/><circle cx="898.4" cy="280.8" r="2.1"/><circle cx="910.3" cy="267.9" r="2.1"/><circle cx="924.3" cy="253.0" r="2.1"/><circle cx="941.7" cy="236.0" r="2.1"/><circle cx="963.1" cy="213.8" r="2.1"/><circle cx="990.8" cy="184.1" r="2.1"/><circle cx="1027.8" cy="142.6" r="2.1"/></g>
<polyline fill="none" stroke="#a60059" stroke-width="1.2" points="855.6,342.8 860.5,340.1 866.1,336.8 872.7,332.1 879.9,326.2 888.7,318.6 898.4,309.4 910.4,298.0 924.3,284.0 941.6,262.7 963.1,236.0 990.8,208.9 1011.8,186.6 1027.8,168.6"/>
<g fill="#a60059"><circle cx="855.6" cy="342.8" r="2.1"/><circle cx="860.5" cy="340.1" r="2.1"/><circle cx="866.1" cy="336.8" r="2.1"/><circle cx="872.7" cy="332.1" r="2.1"/><circle cx="879.9" cy="326.2" r="2.1"/><circle cx="888.7" cy="318.6" r="2.1"/><circle cx="898.4" cy="309.4" r="2.1"/><circle cx="910.4" cy="298.0" r="2.1"/><circle cx="924.3" cy="284.0" r="2.1"/><circle cx="941.6" cy="262.7" r="2.1"/><circle cx="963.1" cy="236.0" r="2.1"/><circle cx="990.8" cy="208.9" r="2.1"/><circle cx="1011.8" cy="186.6" r="2.1"/><circle cx="1027.8" cy="168.6" r="2.1"/></g>
<polyline fill="none" stroke="#c2003d" stroke-width="1.2" points="855.6,355.3 860.5,353.7 866.1,351.8 872.7,348.8 879.9,345.3 888.7,339.5 898.4,331.7 910.4,321.8 924.4,309.0 941.6,292.0 963.1,260.0 990.8,229.9 1011.8,209.2 1027.8,191.6"/>
<g fill="#c2003d"><circle cx="855.6" cy="355.3" r="2.1"/><circle cx="860.5" cy="353.7" r="2.1"/><circle cx="866.1" cy="351.8" r="2.1"/><circle cx="872.7" cy="348.8" r="2.1"/><circle cx="879.9" cy="345.3" r="2.1"/><circle cx="888.7" cy="339.5" r="2.1"/><circle cx="898.4" cy="331.7" r="2.1"/><circle cx="910.4" cy="321.8" r="2.1"/><circle cx="924.4" cy="309.0" r="2.1"/><circle cx="941.6" cy="292.0" r="2.1"/><circle cx="963.1" cy="260.0" r="2.1"/><circle cx="990.8" cy="229.9" r="2.1"/><circle cx="1011.8" cy="209.2" r="2.1"/><circle cx="1027.8" cy="191.6" r="2.1"/></g>
<polyline fill="none" stroke="#e0001f" stroke-width="1.2" points="855.6,359.4 860.5,358.8 866.1,358.0 872.7,357.0 879.9,355.1 888.7,351.8 898.4,346.9 910.5,339.7 924.4,329.0 941.6,314.2 963.1,292.0 990.8,253.6 1011.8,228.9 1027.8,210.6"/>
<g fill="#e0001f"><circle cx="855.6" cy="359.4" r="2.1"/><circle cx="860.5" cy="358.8" r="2.1"/><circle cx="866.1" cy="358.0" r="2.1"/><circle cx="872.7" cy="357.0" r="2.1"/><circle cx="879.9" cy="355.1" r="2.1"/><circle cx="888.7" cy="351.8" r="2.1"/><circle cx="898.4" cy="346.9" r="2.1"/><circle cx="910.5" cy="339.7" r="2.1"/><circle cx="924.4" cy="329.0" r="2.1"/><circle cx="941.6" cy="314.2" r="2.1"/><circle cx="963.1" cy="292.0" r="2.1"/><circle cx="990.8" cy="253.6" r="2.1"/><circle cx="1011.8" cy="228.9" r="2.1"/><circle cx="1027.8" cy="210.6" r="2.1"/></g>
<polyline fill="none" stroke="#ff0000" stroke-width="1.2" points="851.1,360.5 855.6,360.1 860.5,359.7 866.1,359.4 872.7,359.0 879.9,358.4 888.7,357.0 898.4,355.1 910.5,351.0 924.4,343.2 941.7,331.3 963.1,312.5 990.8,273.8 1011.8,246.8 1027.8,229.4"/>
<g fill="#ff0000"><circle cx="851.1" cy="360.5" r="2.1"/><circle cx="855.6" cy="360.1" r="2.1"/><circle cx="860.5" cy="359.7" r="2.1"/><circle cx="866.1" cy="359.4" r="2.1"/><circle cx="872.7" cy="359.0" r="2.1"/><circle cx="879.9" cy="358.4" r="2.1"/><circle cx="888.7" cy="357.0" r="2.1"/><circle cx="898.4" cy="355.1" r="2.1"/><circle cx="910.5" cy="351.0" r="2.1"/><circle cx="924.4" cy="343.2" r="2.1"/><circle cx="941.7" cy="331.3" r="2.1"/><circle cx="963.1" cy="312.5" r="2.1"/><circle cx="990.8" cy="273.8" r="2.1"/><circle cx="1011.8" cy="246.8" r="2.1"/><circle cx="1027.8" cy="229.4" r="2.1"/></g>
<path d="M769.15 381.50v-3.90M769.15 32.00v3.90M784.67 381.50v-2.10M784.67 32.00v2.10M800.19 381.50v-2.10M800.19 32.00v2.10M815.71 381.50v-2.10M815.71 32.00v2.10M831.23 381.50v-2.10M831.23 32.00v2.10M846.75 381.50v-3.90M846.75 32.00v3.90M862.27 381.50v-2.10M862.27 32.00v2.10M877.79 381.50v-2.10M877.79 32.00v2.10M893.31 381.50v-2.10M893.31 32.00v2.10M908.83 381.50v-2.10M908.83 32.00v2.10M924.35 381.50v-3.90M924.35 32.00v3.90M939.87 381.50v-2.10M939.87 32.00v2.10M955.39 381.50v-2.10M955.39 32.00v2.10M970.91 381.50v-2.10M970.91 32.00v2.10M986.43 381.50v-2.10M986.43 32.00v2.10M1001.95 381.50v-3.90M1001.95 32.00v3.90M1017.47 381.50v-2.10M1017.47 32.00v2.10M1032.99 381.50v-2.10M1032.99 32.00v2.10M1048.51 381.50v-2.10M1048.51 32.00v2.10M1064.03 381.50v-2.10M1064.03 32.00v2.10M1079.55 381.50v-3.90M1079.55 32.00v3.90M1095.07 381.50v-2.10M1095.07 32.00v2.10M761.20 365.60h3.90M1110.95 365.60h-3.90M761.20 341.13h2.10M1110.95 341.13h-2.10M761.20 316.67h2.10M1110.95 316.67h-2.10M761.20 292.21h2.10M1110.95 292.21h-2.10M761.20 267.74h3.90M1110.95 267.74h-3.90M761.20 243.28h2.10M1110.95 243.28h-2.10M761.20 218.81h2.10M1110.95 218.81h-2.10M761.20 194.34h2.10M1110.95 194.34h-2.10M761.20 169.88h3.90M1110.95 169.88h-3.90M761.20 145.42h2.10M1110.95 145.42h-2.10M761.20 120.95h2.10M1110.95 120.95h-2.10M761.20 96.49h2.10M1110.95 96.49h-2.10M761.20 72.02h3.90M1110.95 72.02h-3.90M761.20 47.56h2.10M1110.95 47.56h-2.10" stroke="#000" stroke-width="1" fill="none"/>
<rect x="761.20" y="32.00" width="349.75" height="349.50" fill="none" stroke="#000" stroke-width="1.2"/>
<rect x="761.20" y="32.00" width="91.00" height="28.10" fill="#fff" stroke="#000" stroke-width="1.2"/>
<text y="51.9" font-size="20.0"><tspan x="767.60" font-style="italic">U</tspan><tspan x="793.32">6, </tspan><tspan font-style="italic">t</tspan>’<tspan x="836.82">0</tspan></text>
<path d="M782.74 44.66H792.64M782.74 48.50H792.64" stroke="#000" stroke-width="1.56" fill="none"/>
<path d="M826.24 44.66H836.14M826.24 48.50H836.14" stroke="#000" stroke-width="1.56" fill="none"/>
<text x="761.10" y="20.2" font-size="29.5" font-weight="bold" letter-spacing="0.5">(f)</text>
<text x="769.35" y="402.1" font-size="20.2" text-anchor="middle">0</text>
<text x="846.95" y="402.1" font-size="20.2" text-anchor="middle">0.1</text>
<text x="924.55" y="402.1" font-size="20.2" text-anchor="middle">0.2</text>
<text x="1002.15" y="402.1" font-size="20.2" text-anchor="middle">0.3</text>
<text x="1079.75" y="402.1" font-size="20.2" text-anchor="middle">0.4</text>
<text x="935.08" y="430.9" font-size="24.5" font-style="italic" text-anchor="middle">T</text>
<text y="59.30" font-size="18.6"><tspan x="969.60" font-style="italic">p</tspan><tspan x="989.34">0.2</tspan></text>
<path d="M979.52 52.58H988.71M979.52 56.15H988.71" stroke="#000" stroke-width="1.45" fill="none"/>
<text y="75.40" font-size="18.6"><tspan x="899.10" font-style="italic">p</tspan><tspan x="918.84">0.225</tspan></text>
<path d="M909.02 68.68H918.21M909.02 72.25H918.21" stroke="#000" stroke-width="1.45" fill="none"/>
<text y="97.30" font-size="18.6"><tspan x="874.00" font-style="italic">p</tspan><tspan x="893.74">0.25</tspan></text>
<path d="M883.92 90.58H893.11M883.92 94.15H893.11" stroke="#000" stroke-width="1.45" fill="none"/>
<text y="118.90" font-size="18.6"><tspan x="844.60" font-style="italic">p</tspan><tspan x="864.34">0.275</tspan></text>
<path d="M854.52 112.18H863.71M854.52 115.75H863.71" stroke="#000" stroke-width="1.45" fill="none"/>
<text y="75.60" font-size="18.6"><tspan x="1034.10" font-style="italic">p</tspan><tspan x="1053.84">0.175</tspan></text>
<path d="M1044.02 68.88H1053.21M1044.02 72.45H1053.21" stroke="#000" stroke-width="1.45" fill="none"/>
<text y="108.00" font-size="18.6"><tspan x="1034.10" font-style="italic">p</tspan><tspan x="1053.84">0.15</tspan></text>
<path d="M1044.02 101.28H1053.21M1044.02 104.85H1053.21" stroke="#000" stroke-width="1.45" fill="none"/>
<text y="139.20" font-size="18.6"><tspan x="1034.10" font-style="italic">p</tspan><tspan x="1053.84">0.125</tspan></text>
<path d="M1044.02 132.48H1053.21M1044.02 136.05H1053.21" stroke="#000" stroke-width="1.45" fill="none"/>
<text y="165.80" font-size="18.6"><tspan x="1034.10" font-style="italic">p</tspan><tspan x="1053.84">0.1</tspan></text>
<path d="M1044.02 159.08H1053.21M1044.02 162.65H1053.21" stroke="#000" stroke-width="1.45" fill="none"/>
<text y="189.20" font-size="18.6"><tspan x="1034.10" font-style="italic">p</tspan><tspan x="1053.84">0.075</tspan></text>
<path d="M1044.02 182.48H1053.21M1044.02 186.05H1053.21" stroke="#000" stroke-width="1.45" fill="none"/>
<text y="215.90" font-size="18.6"><tspan x="1034.10" font-style="italic">p</tspan><tspan x="1053.84">0.05</tspan></text>
<path d="M1044.02 209.18H1053.21M1044.02 212.75H1053.21" stroke="#000" stroke-width="1.45" fill="none"/>
<text y="242.50" font-size="18.6"><tspan x="1034.10" font-style="italic">p</tspan><tspan x="1053.84">0.025</tspan></text>
<path d="M1044.02 235.78H1053.21M1044.02 239.35H1053.21" stroke="#000" stroke-width="1.45" fill="none"/>
<path d="M990.90 63.00L990.90 78.90" stroke="#000" stroke-width="0.85" fill="none"/>
<path d="M990.90 80.40L988.17 74.61L990.90 78.48L993.63 74.61Z" fill="#000" stroke="#000" stroke-width="0.3" stroke-linejoin="miter"/>
<path d="M960.10 78.60L962.88 91.14" stroke="#000" stroke-width="0.85" fill="none"/>
<path d="M963.20 92.60L959.29 87.54L962.78 90.73L964.61 86.36Z" fill="#000" stroke="#000" stroke-width="0.3" stroke-linejoin="miter"/>
<path d="M925.60 100.20L938.80 105.26" stroke="#000" stroke-width="0.85" fill="none"/>
<path d="M940.20 105.80L933.82 106.27L938.41 105.11L935.77 101.18Z" fill="#000" stroke="#000" stroke-width="0.3" stroke-linejoin="miter"/>
<path d="M905.80 113.10L921.52 110.63" stroke="#000" stroke-width="0.85" fill="none"/>
<path d="M923.00 110.40L917.70 113.99L921.10 110.70L916.86 108.60Z" fill="#000" stroke="#000" stroke-width="0.3" stroke-linejoin="miter"/>
<text x="55.7" y="372.50" font-size="20.2" text-anchor="end">0</text>
<text x="55.7" y="274.64" font-size="20.2" text-anchor="end">0.2</text>
<text x="55.7" y="176.78" font-size="20.2" text-anchor="end">0.4</text>
<text x="55.7" y="78.92" font-size="20.2" text-anchor="end">0.6</text>
<text transform="translate(13.4,228.0) rotate(-90)" font-size="26.7"><tspan font-weight="bold">ω</tspan><tspan font-size="17" dy="5" dx="-0.8">max</tspan></text>
</svg>
</body></html>
